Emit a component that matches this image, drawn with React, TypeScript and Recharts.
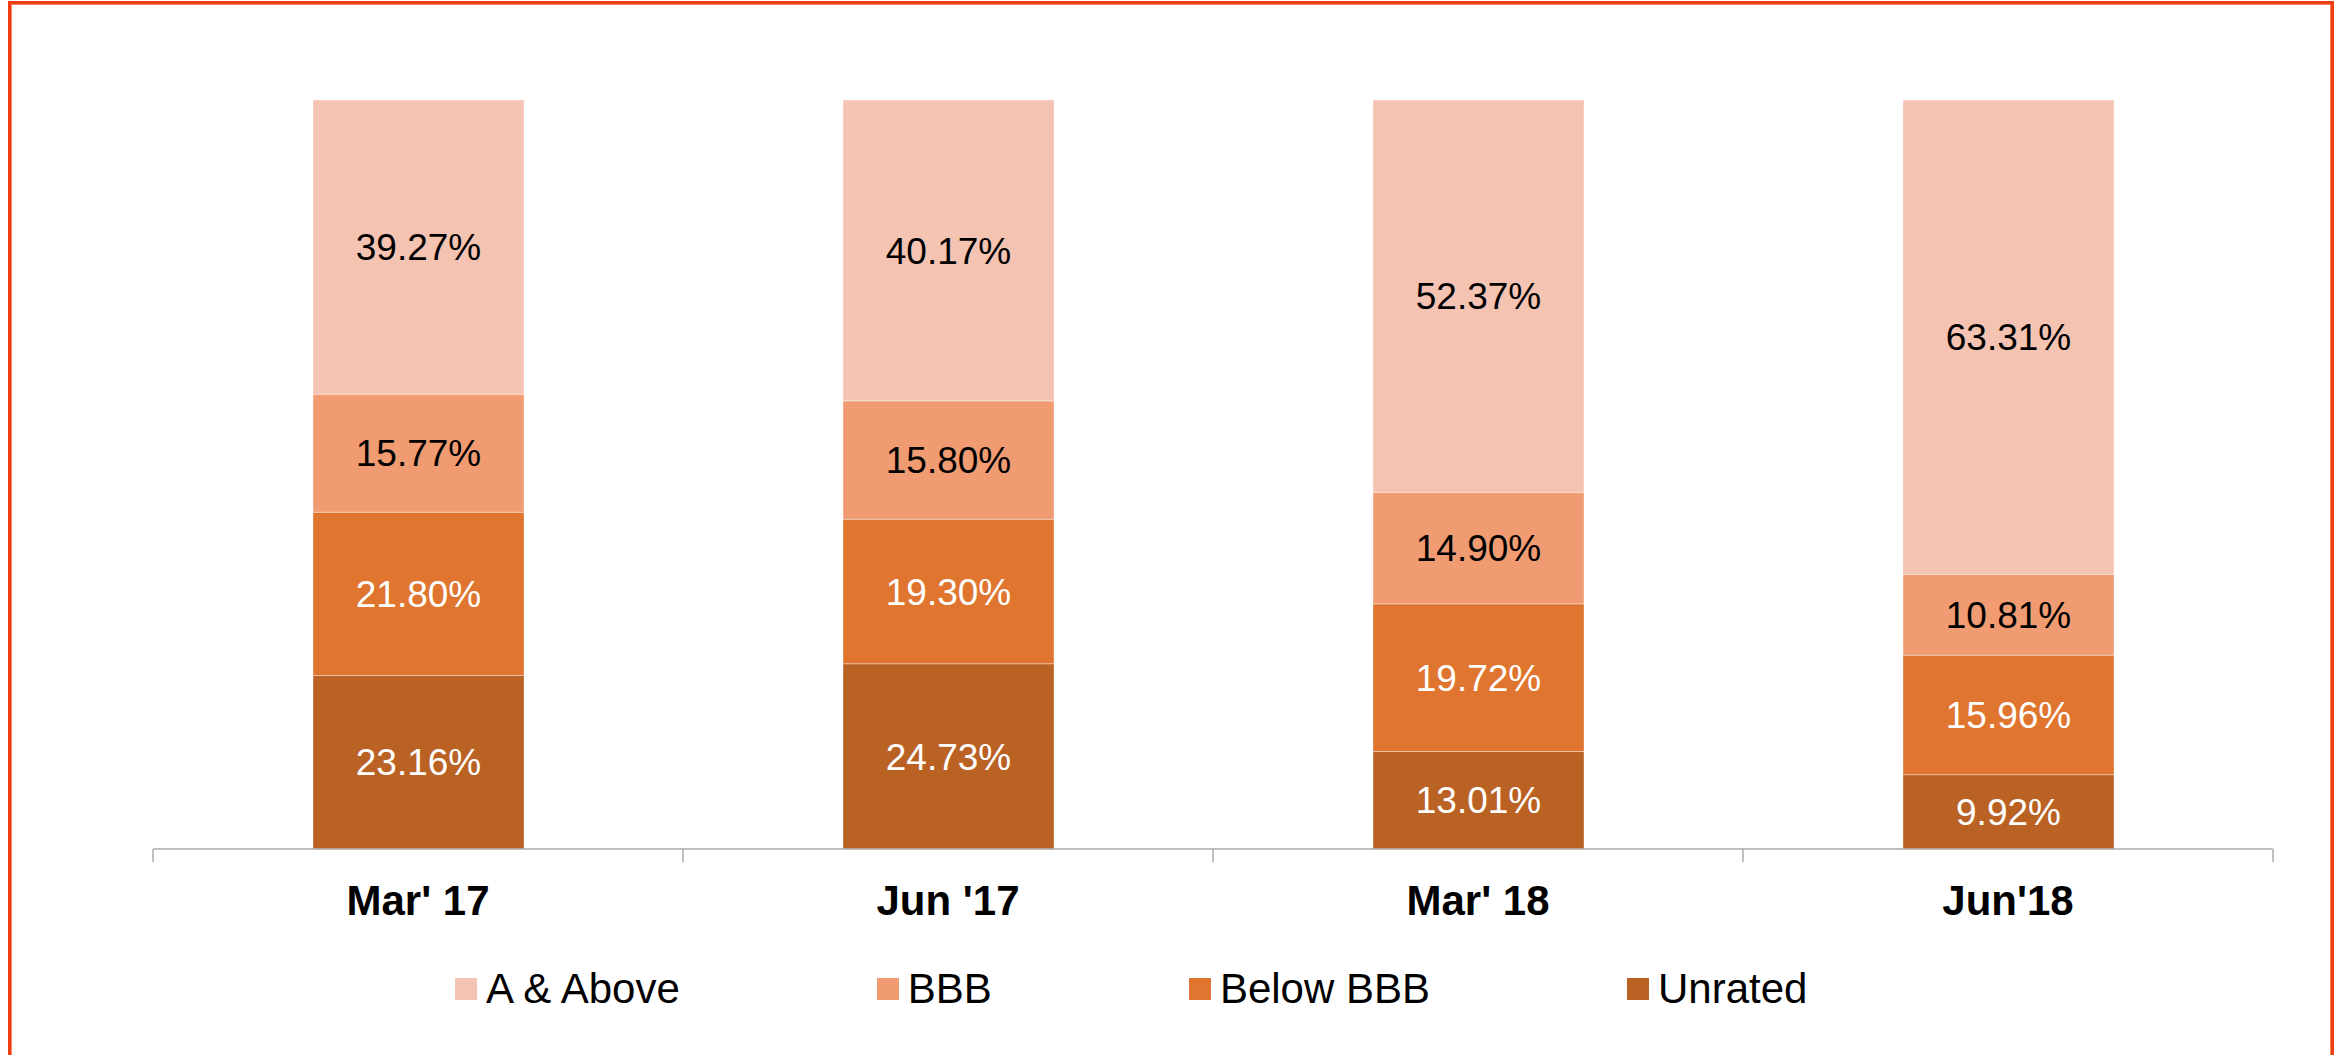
import React from "react";
import { BarChart, Bar, XAxis, YAxis, Legend, LabelList } from "recharts";

// Chart data
const categories = ["Mar' 17", "Jun '17", "Mar' 18", "Jun'18"];
const aAndAbove = [39.27, 40.17, 52.37, 63.31];
const bbb = [15.77, 15.8, 14.9, 10.81];
const belowBbb = [21.8, 19.3, 19.72, 15.96];
const unrated = [23.16, 24.73, 13.01, 9.92];

const data = categories.map((name, i) => ({
  name,
  "A & Above": aAndAbove[i],
  BBB: bbb[i],
  "Below BBB": belowBbb[i],
  Unrated: unrated[i],
}));

// bottom to top
const series = [
  { key: "Unrated", color: "#BA6124", text: "#ffffff" },
  { key: "Below BBB", color: "#DF752F", text: "#ffffff" },
  { key: "BBB", color: "#F09B72", text: "#000000" },
  { key: "A & Above", color: "#F4C3B2", text: "#000000" },
];

const W = 2341;
const H = 1055;
const margin = { top: 100, right: 68, left: 153, bottom: 26 };
const PLOT_W = W - margin.left - margin.right;
const band = PLOT_W / categories.length;
const FONT = "'Liberation Sans', Arial, sans-serif";
const AXIS_COLOR = "#ABABAB";

const CategoryTick = (props: any) => {
  const { x, y, payload, index } = props;
  return (
    <g>
      <line x1={x - band / 2} x2={x - band / 2} y1={y} y2={y + 13} stroke={AXIS_COLOR} strokeWidth={1.5} />
      {index === categories.length - 1 && (
        <line x1={x + band / 2} x2={x + band / 2} y1={y} y2={y + 13} stroke={AXIS_COLOR} strokeWidth={1.5} />
      )}
      <text x={x} y={y + 66} textAnchor="middle" fontFamily={FONT} fontWeight="bold" fontSize={42} fill="#000">
        {payload.value}
      </text>
    </g>
  );
};

const LegendContent = () => (
  <div
    style={{
      height: 80,
      display: "flex",
      alignItems: "center",
      paddingLeft: 455,
      gap: 197,
      fontFamily: FONT,
      fontSize: 42,
      color: "#000",
    }}
  >
    {[...series].reverse().map((s) => (
      <div key={s.key} style={{ display: "flex", alignItems: "center", gap: 9 }}>
        <span style={{ width: 22, height: 22, background: s.color, display: "inline-block" }} />
        <span style={{ lineHeight: "48px" }}>{s.key}</span>
      </div>
    ))}
  </div>
);

export default function App() {
  return (
    <>
      <div
        style={{
          position: "absolute",
          left: 8,
          top: 1,
          width: 2326,
          height: 1054,
          border: "3px solid #EF3F12",
          borderBottom: "none",
          boxSizing: "border-box",
          boxShadow: "inset 1px 1px 0 #F7875E, inset -1px 0 0 #F7875E",
        }}
      />
      <div style={{ position: "absolute", left: 0, top: 0 }}>
        <BarChart width={W} height={H} data={data} margin={margin}>
          <YAxis hide domain={[0, 100]} />
          <XAxis
            dataKey="name"
            height={100}
            tickSize={0}
            tickMargin={0}
            tickLine={false}
            axisLine={{ stroke: AXIS_COLOR, strokeWidth: 1.5 }}
            tick={<CategoryTick />}
            interval={0}
          />
          <Legend
            verticalAlign="bottom"
            content={<LegendContent />}
            wrapperStyle={{ left: 0, width: W }}
          />
          {series.map((s) => (
            <Bar
              key={s.key}
              dataKey={s.key}
              stackId="a"
              fill={s.color}
              barSize={211}
              stroke="rgba(255,255,255,0.35)"
              strokeWidth={1}
              isAnimationActive={false}
            >
              <LabelList
                dataKey={s.key}
                position="center"
                formatter={(v: any) => `${Number(v).toFixed(2)}%`}
                fill={s.text}
                fontSize={37}
                fontFamily={FONT}
              />
            </Bar>
          ))}
        </BarChart>
      </div>
    </>
  );
}
